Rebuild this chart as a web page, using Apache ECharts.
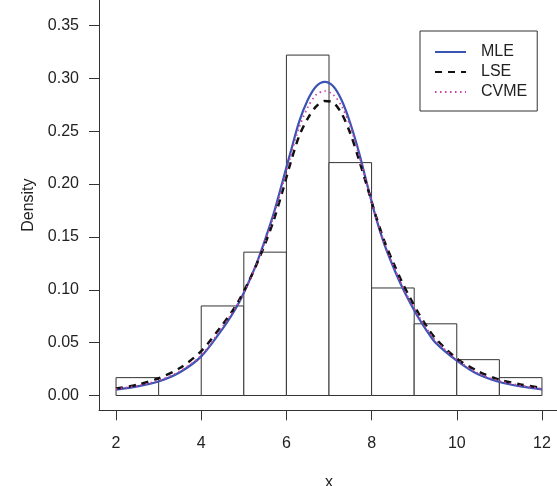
<!DOCTYPE html>
<html><head><meta charset="utf-8">
<script src="https://cdn.jsdelivr.net/npm/echarts@6/dist/echarts.min.js"></script>
<style>html,body{margin:0;padding:0;background:#fff}#c{width:557px;height:486px}</style>
</head><body><div id="c"></div>
<script>
// Histogram bins
const binStart = [2, 3, 4, 5, 6, 7, 8, 9, 10, 11];
const binEnd   = [3, 4, 5, 6, 7, 8, 9, 10, 11, 12];
const density  = [0.0169, 0, 0.0847, 0.1356, 0.3220, 0.2203, 0.1017, 0.0678, 0.0339, 0.0169];

// Fitted density curves
const curveX = [2, 2.5, 3, 3.5, 4,
  4.5, 4.7, 4.9, 5.1, 5.3, 5.5, 5.7, 5.9, 6.1, 6.3, 6.5, 6.7, 6.9,
  7.1, 7.3, 7.5, 7.7, 7.9, 8.1, 8.3, 8.5, 8.7, 8.9, 9.1, 9.3, 9.5,
  10, 10.5, 11, 11.5, 12];
const mle = [0.0055, 0.0086, 0.0133, 0.022, 0.037,
  0.063, 0.075, 0.089, 0.106, 0.125, 0.1475, 0.172, 0.201, 0.2305, 0.259, 0.2795, 0.2925, 0.2967,
  0.2925, 0.279, 0.2575, 0.2305, 0.199, 0.1685, 0.143, 0.1225, 0.104, 0.088, 0.0735, 0.061, 0.050,
  0.033, 0.020, 0.0128, 0.0086, 0.0058];
const lse = [0.0066, 0.0102, 0.0163, 0.026, 0.042,
  0.067, 0.078, 0.091, 0.1065, 0.124, 0.1435, 0.1655, 0.192, 0.2205, 0.2455, 0.262, 0.2735, 0.2786,
  0.2772, 0.2665, 0.248, 0.2235, 0.197, 0.170, 0.146, 0.1265, 0.1085, 0.0925, 0.078, 0.065, 0.054,
  0.035, 0.023, 0.015, 0.0105, 0.0072];
const cvme = [0.0060, 0.0092, 0.0142, 0.023, 0.038,
  0.065, 0.0765, 0.0895, 0.1055, 0.1245, 0.1455, 0.170, 0.1975, 0.2265, 0.2535, 0.2725, 0.2845, 0.288,
  0.2845, 0.2735, 0.2545, 0.2275, 0.198, 0.169, 0.1445, 0.124, 0.1055, 0.0895, 0.0755, 0.063, 0.052,
  0.034, 0.021, 0.0138, 0.0094, 0.0064];

const xTicks = [2, 4, 6, 8, 10, 12];
const yTicks = [0, 0.05, 0.10, 0.15, 0.20, 0.25, 0.30, 0.35];
const seriesNames = ['MLE', 'LSE', 'CVME'];

const font = '"Liberation Sans", Arial, Helvetica, sans-serif';
const axisColor = '#333';
const textColor = '#222';

const chart = echarts.init(document.getElementById('c'), null, {renderer: 'canvas'});

const option = {
  animation: false,
  backgroundColor: '#fff',
  grid: {left: 99, top: 0, width: 460, height: 410.3, containLabel: false, outerBoundsMode: 'none'},
  xAxis: {
    type: 'value', min: 1.6, max: 12.4,
    axisLine: {show: true, onZero: false, lineStyle: {color: axisColor, width: 1}},
    axisTick: {show: true, length: 10, inside: false, customValues: xTicks, lineStyle: {color: axisColor, width: 1}},
    axisLabel: {show: true, customValues: xTicks, margin: 25, fontSize: 16, color: textColor, fontFamily: font},
    splitLine: {show: false},
    name: 'x', nameLocation: 'middle', nameGap: 64,
    nameTextStyle: {fontSize: 16, color: textColor, fontFamily: font}
  },
  yAxis: {
    type: 'value', min: -0.014, max: 0.3741,
    axisLine: {show: true, onZero: false, lineStyle: {color: axisColor, width: 1}},
    axisTick: {show: true, length: 10, inside: false, customValues: yTicks, lineStyle: {color: axisColor, width: 1}},
    axisLabel: {show: true, customValues: yTicks, margin: 20, fontSize: 16, color: textColor, fontFamily: font,
      formatter: v => v.toFixed(2)},
    splitLine: {show: false},
    name: 'Density', nameLocation: 'middle', nameGap: 58, nameRotate: 90,
    nameTextStyle: {fontSize: 16, color: textColor, fontFamily: font}
  },
  legend: {
    data: seriesNames, orient: 'vertical', left: 420, top: 31,
    padding: [11, 10, 9, 14], itemWidth: 31, itemHeight: 14, itemGap: 0,
    borderColor: axisColor, borderWidth: 1, borderRadius: 0, backgroundColor: '#fff',
    itemStyle: {opacity: 0},
    textStyle: {fontSize: 16, color: textColor, fontFamily: font, lineHeight: 20, padding: [0, 0, 0, 10]}
  },
  series: [
    {
      type: 'custom', name: 'hist', z: 1,
      data: binStart.map((s, i) => [s, binEnd[i], density[i]]),
      encode: {x: [0, 1], y: 2},
      renderItem: function (params, api) {
        const p0 = api.coord([api.value(0), api.value(2)]);
        const p1 = api.coord([api.value(1), 0]);
        return {type: 'rect', shape: {x: p0[0], y: p0[1], width: p1[0] - p0[0], height: p1[1] - p0[1]},
          style: {fill: '#fff', stroke: '#333', lineWidth: 1}};
      }
    },
    {
      type: 'line', name: 'MLE', z: 3, smooth: 0.3, symbol: 'none', showSymbol: false,
      data: curveX.map((x, i) => [x, mle[i]]),
      lineStyle: {color: '#3a54b4', width: 2.2, type: 'solid'}, itemStyle: {color: '#3a54b4'}
    },
    {
      type: 'line', name: 'LSE', z: 4, smooth: 0.3, symbol: 'none', showSymbol: false,
      data: curveX.map((x, i) => [x, lse[i]]),
      lineStyle: {color: '#111', width: 2.5, type: [7, 6]}, itemStyle: {color: '#111'}
    },
    {
      type: 'line', name: 'CVME', z: 5, smooth: 0.3, symbol: 'none', showSymbol: false,
      data: curveX.map((x, i) => [x, cvme[i]]),
      lineStyle: {color: '#cc3fa6', width: 1.8, type: [1.5, 3.5]}, itemStyle: {color: '#cc3fa6'}
    }
  ]
};
chart.setOption(option);
</script>
</body></html>
